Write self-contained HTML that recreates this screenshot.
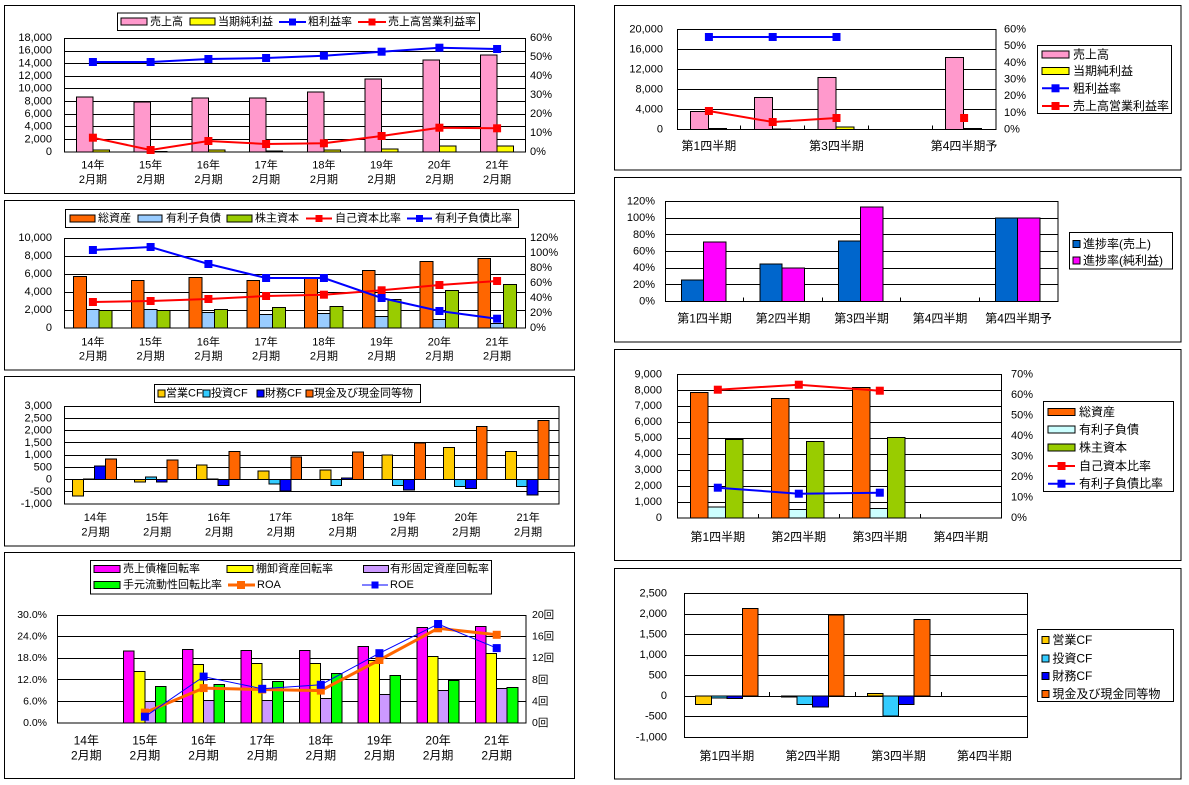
<!DOCTYPE html>
<html><head><meta charset="utf-8">
<style>
html,body{margin:0;padding:0;background:#fff;}
svg{display:block;}
text{fill:#000;}
.e{text-anchor:end;}
.m{text-anchor:middle;}
.g{stroke:#000;stroke-width:1;shape-rendering:crispEdges;}
.b{stroke:#000;stroke-width:1;shape-rendering:crispEdges;}
</style></head>
<body>
<svg width="1189" height="785" viewBox="0 0 1189 785" xmlns="http://www.w3.org/2000/svg" font-family="'Liberation Sans','Noto Sans CJK JP',sans-serif" font-size="11" dominant-baseline="central">
<rect x="0" y="0" width="1189" height="785" fill="#fff"/>

<!-- ================= CHART 1 ================= -->
<rect x="4.5" y="5.5" width="570" height="188" fill="#fff" class="b"/>
<rect x="117.5" y="13" width="362" height="17.5" fill="#fff" class="b"/>
<rect x="121" y="18" width="26" height="7" fill="#FF99CC" class="b"/>
<text x="150" y="22">売上高</text>
<rect x="190" y="18" width="25" height="7" fill="#FFFF00" class="b"/>
<text x="218" y="22">当期純利益</text>
<line x1="279" y1="22" x2="306" y2="22" stroke="#0000FF" stroke-width="2"/>
<rect x="289" y="18.5" width="7" height="7" fill="#0000FF"/>
<text x="308" y="22">粗利益率</text>
<line x1="358" y1="22" x2="386" y2="22" stroke="#FF0000" stroke-width="2"/>
<rect x="368.5" y="18.5" width="7" height="7" fill="#FF0000"/>
<text x="388" y="22">売上高営業利益率</text>

<rect x="64.5" y="38.5" width="461" height="113.5" fill="#fff" class="g"/>
<g class="g">
<line x1="64" y1="139.5" x2="526" y2="139.5"/><line x1="64" y1="126.5" x2="526" y2="126.5"/>
<line x1="64" y1="114.5" x2="526" y2="114.5"/><line x1="64" y1="101.5" x2="526" y2="101.5"/>
<line x1="64" y1="88.5" x2="526" y2="88.5"/><line x1="64" y1="76.5" x2="526" y2="76.5"/>
<line x1="64" y1="63.5" x2="526" y2="63.5"/><line x1="64" y1="51.5" x2="526" y2="51.5"/>
</g>
<g class="e">
<text x="52" y="152">0</text><text x="52" y="139.3">2,000</text><text x="52" y="126.7">4,000</text>
<text x="52" y="114">6,000</text><text x="52" y="101.3">8,000</text><text x="52" y="88.7">10,000</text>
<text x="52" y="76">12,000</text><text x="52" y="63.3">14,000</text><text x="52" y="50.7">16,000</text>
<text x="52" y="38">18,000</text>
</g>
<g>
<text x="530" y="152">0%</text><text x="530" y="133">10%</text><text x="530" y="114">20%</text>
<text x="530" y="95">30%</text><text x="530" y="76">40%</text><text x="530" y="57">50%</text><text x="530" y="38">60%</text>
</g>
<g fill="#FF99CC" class="b">
<rect x="76.4" y="96.9" width="16.5" height="55.1"/>
<rect x="134.1" y="102" width="16.5" height="50"/>
<rect x="191.9" y="98.2" width="16.5" height="53.8"/>
<rect x="249.6" y="98.2" width="16.5" height="53.8"/>
<rect x="307.4" y="92.2" width="16.5" height="59.8"/>
<rect x="365.1" y="79.2" width="16.5" height="72.8"/>
<rect x="422.9" y="60.2" width="16.5" height="91.8"/>
<rect x="480.6" y="55.1" width="16.5" height="96.9"/>
</g>
<g fill="#FFFF00" class="b">
<rect x="92.9" y="150" width="16.5" height="2"/>
<rect x="150.6" y="151.5" width="16.5" height="0.5"/>
<rect x="208.4" y="150" width="16.5" height="2"/>
<rect x="266.1" y="151" width="16.5" height="1"/>
<rect x="323.9" y="150" width="16.5" height="2"/>
<rect x="381.6" y="149" width="16.5" height="3"/>
<rect x="439.4" y="146" width="16.5" height="6"/>
<rect x="497.1" y="146" width="16.5" height="6"/>
</g>
<polyline fill="none" stroke="#0000FF" stroke-width="2" points="92.9,62 150.6,62 208.4,59 266.1,58 323.9,55.7 381.6,51.7 439.4,47.7 497.1,49"/>
<g fill="#0000FF">
<rect x="88.9" y="58" width="8" height="8"/><rect x="146.6" y="58" width="8" height="8"/>
<rect x="204.4" y="55" width="8" height="8"/><rect x="262.1" y="54" width="8" height="8"/>
<rect x="319.9" y="51.7" width="8" height="8"/><rect x="377.6" y="47.7" width="8" height="8"/>
<rect x="435.4" y="43.7" width="8" height="8"/><rect x="493.1" y="45" width="8" height="8"/>
</g>
<polyline fill="none" stroke="#FF0000" stroke-width="2" points="92.9,137.7 150.6,150 208.4,141 266.1,144 323.9,143.3 381.6,136 439.4,127.7 497.1,128.3"/>
<g fill="#FF0000">
<rect x="88.9" y="133.7" width="8" height="8"/><rect x="146.6" y="146" width="8" height="8"/>
<rect x="204.4" y="137" width="8" height="8"/><rect x="262.1" y="140" width="8" height="8"/>
<rect x="319.9" y="139.3" width="8" height="8"/><rect x="377.6" y="132" width="8" height="8"/>
<rect x="435.4" y="123.7" width="8" height="8"/><rect x="493.1" y="124.3" width="8" height="8"/>
</g>
<g class="m">
<text x="92.9" y="165.5">14年</text><text x="150.6" y="165.5">15年</text><text x="208.4" y="165.5">16年</text><text x="266.1" y="165.5">17年</text>
<text x="323.9" y="165.5">18年</text><text x="381.6" y="165.5">19年</text><text x="439.4" y="165.5">20年</text><text x="497.1" y="165.5">21年</text>
<text x="92.9" y="180">2月期</text><text x="150.6" y="180">2月期</text><text x="208.4" y="180">2月期</text><text x="266.1" y="180">2月期</text>
<text x="323.9" y="180">2月期</text><text x="381.6" y="180">2月期</text><text x="439.4" y="180">2月期</text><text x="497.1" y="180">2月期</text>
</g>

<!-- ================= CHART 2 ================= -->
<rect x="4.5" y="200.5" width="570" height="169.5" fill="#fff" class="b"/>
<rect x="65.5" y="209.5" width="453" height="18" fill="#fff" class="b"/>
<rect x="70" y="215" width="25" height="7" fill="#FF6600" class="b"/>
<text x="98" y="218.5">総資産</text>
<rect x="138" y="215" width="24" height="7" fill="#99CCFF" class="b"/>
<text x="166" y="218.5">有利子負債</text>
<rect x="227" y="215" width="25" height="7" fill="#99CC00" class="b"/>
<text x="255" y="218.5">株主資本</text>
<line x1="306" y1="218.5" x2="332" y2="218.5" stroke="#FF0000" stroke-width="2"/>
<rect x="315.5" y="215" width="7" height="7" fill="#FF0000"/>
<text x="335" y="218.5">自己資本比率</text>
<line x1="407" y1="218.5" x2="432" y2="218.5" stroke="#0000FF" stroke-width="2"/>
<rect x="416" y="215" width="7" height="7" fill="#0000FF"/>
<text x="435" y="218.5">有利子負債比率</text>

<rect x="64.5" y="238.5" width="461" height="89.5" fill="#fff" class="g"/>
<g class="g">
<line x1="64" y1="310.5" x2="526" y2="310.5"/><line x1="64" y1="292.5" x2="526" y2="292.5"/>
<line x1="64" y1="274.5" x2="526" y2="274.5"/><line x1="64" y1="256.5" x2="526" y2="256.5"/>
</g>
<g class="e">
<text x="52" y="328">0</text><text x="52" y="310">2,000</text><text x="52" y="292">4,000</text>
<text x="52" y="274">6,000</text><text x="52" y="256">8,000</text><text x="52" y="238">10,000</text>
</g>
<g>
<text x="530" y="328">0%</text><text x="530" y="313">20%</text><text x="530" y="298">40%</text><text x="530" y="283">60%</text>
<text x="530" y="268">80%</text><text x="530" y="253">100%</text><text x="530" y="238">120%</text>
</g>
<g fill="#FF6600" class="b">
<rect x="73.6" y="276.3" width="12.8" height="51.7"/>
<rect x="131.35" y="280.3" width="12.8" height="47.7"/>
<rect x="189.1" y="277.3" width="12.8" height="50.7"/>
<rect x="246.85" y="280.3" width="12.8" height="47.7"/>
<rect x="304.6" y="277.7" width="12.8" height="50.3"/>
<rect x="362.35" y="270.3" width="12.8" height="57.7"/>
<rect x="420.1" y="261.3" width="12.8" height="66.7"/>
<rect x="477.85" y="258.3" width="12.8" height="69.7"/>
</g>
<g fill="#99CCFF" class="b">
<rect x="86.4" y="309.3" width="12.8" height="18.7"/>
<rect x="144.15" y="309.3" width="12.8" height="18.7"/>
<rect x="201.9" y="312.3" width="12.8" height="15.7"/>
<rect x="259.65" y="314.3" width="12.8" height="13.7"/>
<rect x="317.4" y="313.3" width="12.8" height="14.7"/>
<rect x="375.15" y="316.3" width="12.8" height="11.7"/>
<rect x="432.9" y="319.3" width="12.8" height="8.7"/>
<rect x="490.65" y="323.3" width="12.8" height="4.7"/>
</g>
<g fill="#99CC00" class="b">
<rect x="99.2" y="310.3" width="12.8" height="17.7"/>
<rect x="156.95" y="310.3" width="12.8" height="17.7"/>
<rect x="214.7" y="309.3" width="12.8" height="18.7"/>
<rect x="272.45" y="307.3" width="12.8" height="20.7"/>
<rect x="330.2" y="306.3" width="12.8" height="21.7"/>
<rect x="387.95" y="299.3" width="12.8" height="28.7"/>
<rect x="445.7" y="290.3" width="12.8" height="37.7"/>
<rect x="503.45" y="284.3" width="12.8" height="43.7"/>
</g>
<polyline fill="none" stroke="#FF0000" stroke-width="2" points="92.9,302 150.6,301 208.4,299 266.1,296 323.9,294.7 381.6,290.3 439.4,285 497.1,281"/>
<g fill="#FF0000">
<rect x="88.9" y="298" width="8" height="8"/><rect x="146.6" y="297" width="8" height="8"/>
<rect x="204.4" y="295" width="8" height="8"/><rect x="262.1" y="292" width="8" height="8"/>
<rect x="319.9" y="290.7" width="8" height="8"/><rect x="377.6" y="286.3" width="8" height="8"/>
<rect x="435.4" y="281" width="8" height="8"/><rect x="493.1" y="277" width="8" height="8"/>
</g>
<polyline fill="none" stroke="#0000FF" stroke-width="2" points="92.9,250 150.6,247 208.4,264 266.1,278 323.9,278 381.6,298 439.4,311 497.1,318.7"/>
<g fill="#0000FF">
<rect x="88.9" y="246" width="8" height="8"/><rect x="146.6" y="243" width="8" height="8"/>
<rect x="204.4" y="260" width="8" height="8"/><rect x="262.1" y="274" width="8" height="8"/>
<rect x="319.9" y="274" width="8" height="8"/><rect x="377.6" y="294" width="8" height="8"/>
<rect x="435.4" y="307" width="8" height="8"/><rect x="493.1" y="314.7" width="8" height="8"/>
</g>
<g class="m">
<text x="92.9" y="342.7">14年</text><text x="150.6" y="342.7">15年</text><text x="208.4" y="342.7">16年</text><text x="266.1" y="342.7">17年</text>
<text x="323.9" y="342.7">18年</text><text x="381.6" y="342.7">19年</text><text x="439.4" y="342.7">20年</text><text x="497.1" y="342.7">21年</text>
<text x="92.9" y="356.7">2月期</text><text x="150.6" y="356.7">2月期</text><text x="208.4" y="356.7">2月期</text><text x="266.1" y="356.7">2月期</text>
<text x="323.9" y="356.7">2月期</text><text x="381.6" y="356.7">2月期</text><text x="439.4" y="356.7">2月期</text><text x="497.1" y="356.7">2月期</text>
</g>

<!-- ================= CHART 3 ================= -->
<rect x="4.5" y="376.5" width="570" height="169.5" fill="#fff" class="b"/>
<rect x="154.5" y="384.5" width="266" height="18" fill="#fff" class="b"/>
<rect x="158" y="390" width="7" height="7" fill="#FFCC00" class="b"/>
<text x="166" y="393.5">営業CF</text>
<rect x="203" y="390" width="7" height="7" fill="#33CCFF" class="b"/>
<text x="211" y="393.5">投資CF</text>
<rect x="257" y="390" width="7" height="7" fill="#0000FF" class="b"/>
<text x="265" y="393.5">財務CF</text>
<rect x="306" y="390" width="7" height="7" fill="#FF6600" class="b"/>
<text x="314" y="393.5">現金及び現金同等物</text>

<rect x="64.5" y="406.5" width="494.5" height="97.5" fill="#fff" class="g"/>
<g class="g">
<line x1="64" y1="418.5" x2="559" y2="418.5"/><line x1="64" y1="430.5" x2="559" y2="430.5"/>
<line x1="64" y1="442.5" x2="559" y2="442.5"/><line x1="64" y1="455.5" x2="559" y2="455.5"/>
<line x1="64" y1="467.5" x2="559" y2="467.5"/><line x1="64" y1="479.5" x2="559" y2="479.5"/>
<line x1="64" y1="491.5" x2="559" y2="491.5"/>
</g>
<g class="e">
<text x="52" y="406">3,000</text><text x="52" y="418.3">2,500</text><text x="52" y="430.5">2,000</text>
<text x="52" y="442.8">1,500</text><text x="52" y="455">1,000</text><text x="52" y="467.3">500</text>
<text x="52" y="479.5">0</text><text x="52" y="491.8">-500</text><text x="52" y="504">-1,000</text>
</g>
<g fill="#FFCC00" class="b">
<rect x="72.7" y="479.5" width="10.9" height="16.6"/>
<rect x="134.5" y="479.5" width="10.9" height="2.3"/>
<rect x="196.3" y="465.2" width="10.9" height="14.3"/>
<rect x="258.1" y="471.2" width="10.9" height="8.3"/>
<rect x="319.9" y="470.2" width="10.9" height="9.3"/>
<rect x="381.8" y="455.2" width="10.9" height="24.3"/>
<rect x="443.6" y="447.3" width="10.9" height="32.2"/>
<rect x="505.4" y="451.3" width="10.9" height="28.2"/>
</g>
<g fill="#33CCFF" class="b">
<rect x="83.6" y="478.8" width="10.9" height="0.7"/>
<rect x="145.4" y="477.2" width="10.9" height="2.3"/>
<rect x="207.2" y="479" width="10.9" height="0.5"/>
<rect x="269" y="479.5" width="10.9" height="4.7"/>
<rect x="330.8" y="479.5" width="10.9" height="6"/>
<rect x="392.7" y="479.5" width="10.9" height="6"/>
<rect x="454.5" y="479.5" width="10.9" height="7"/>
<rect x="516.3" y="479.5" width="10.9" height="7"/>
</g>
<g fill="#0000FF" class="b">
<rect x="94.5" y="466.2" width="10.9" height="13.3"/>
<rect x="156.3" y="479.5" width="10.9" height="2.7"/>
<rect x="218.1" y="479.5" width="10.9" height="6"/>
<rect x="279.9" y="479.5" width="10.9" height="11.6"/>
<rect x="341.7" y="477.8" width="10.9" height="1.7"/>
<rect x="403.6" y="479.5" width="10.9" height="10.6"/>
<rect x="465.4" y="479.5" width="10.9" height="9"/>
<rect x="527.2" y="479.5" width="10.9" height="15.6"/>
</g>
<g fill="#FF6600" class="b">
<rect x="105.4" y="459.2" width="10.9" height="20.3"/>
<rect x="167.2" y="460.2" width="10.9" height="19.3"/>
<rect x="229" y="451.3" width="10.9" height="28.2"/>
<rect x="290.8" y="457.2" width="10.9" height="22.3"/>
<rect x="352.6" y="452.2" width="10.9" height="27.3"/>
<rect x="414.5" y="442.9" width="10.9" height="36.6"/>
<rect x="476.3" y="426.3" width="10.9" height="53.2"/>
<rect x="538.1" y="420.3" width="10.9" height="59.2"/>
</g>
<g class="m">
<text x="95.4" y="518">14年</text><text x="157.2" y="518">15年</text><text x="219" y="518">16年</text><text x="280.8" y="518">17年</text>
<text x="342.6" y="518">18年</text><text x="404.5" y="518">19年</text><text x="466.3" y="518">20年</text><text x="528.1" y="518">21年</text>
<text x="95.4" y="532.7">2月期</text><text x="157.2" y="532.7">2月期</text><text x="219" y="532.7">2月期</text><text x="280.8" y="532.7">2月期</text>
<text x="342.6" y="532.7">2月期</text><text x="404.5" y="532.7">2月期</text><text x="466.3" y="532.7">2月期</text><text x="528.1" y="532.7">2月期</text>
</g>

<!-- ================= CHART 4 ================= -->
<rect x="4.5" y="552.5" width="570" height="226" fill="#fff" class="b"/>
<rect x="90.5" y="560.5" width="401" height="33.5" fill="#fff" class="b"/>
<rect x="94" y="565.5" width="26" height="7" fill="#FF00FF" class="b"/>
<text x="123" y="569">売上債権回転率</text>
<rect x="227" y="565.5" width="26" height="7" fill="#FFFF00" class="b"/>
<text x="256" y="569">棚卸資産回転率</text>
<rect x="363.5" y="565.5" width="25" height="7" fill="#CC99FF" class="b"/>
<text x="390" y="569">有形固定資産回転率</text>
<rect x="94" y="581.5" width="26" height="7" fill="#00FF00" class="b"/>
<text x="123" y="585">手元流動性回転比率</text>
<line x1="228" y1="585" x2="255" y2="585" stroke="#FF6600" stroke-width="3"/>
<rect x="237" y="581" width="8" height="8" fill="#FF6600"/>
<text x="257" y="585">ROA</text>
<line x1="362" y1="585" x2="388" y2="585" stroke="#0000FF" stroke-width="1"/>
<rect x="371.5" y="581.5" width="7" height="7" fill="#0000FF"/>
<text x="390" y="585">ROE</text>

<rect x="57.5" y="615.5" width="468.5" height="107.5" fill="#fff" class="g"/>
<g class="g">
<line x1="57" y1="701.5" x2="526" y2="701.5"/><line x1="57" y1="679.5" x2="526" y2="679.5"/>
<line x1="57" y1="658.5" x2="526" y2="658.5"/><line x1="57" y1="636.5" x2="526" y2="636.5"/>
</g>
<g class="e" font-size="10.5">
<text x="47" y="723">0.0%</text><text x="47" y="701.4">6.0%</text><text x="47" y="679.8">12.0%</text>
<text x="47" y="658.2">18.0%</text><text x="47" y="636.6">24.0%</text><text x="47" y="615">30.0%</text>
</g>
<g font-size="10.5">
<text x="532" y="723">0回</text><text x="532" y="701.4">4回</text><text x="532" y="679.8">8回</text>
<text x="532" y="658.2">12回</text><text x="532" y="636.6">16回</text><text x="532" y="615">20回</text>
</g>
<g fill="#FF00FF" class="b">
<rect x="123.6" y="651" width="10.6" height="72"/>
<rect x="182.25" y="649.6" width="10.6" height="73.4"/>
<rect x="240.9" y="650.6" width="10.6" height="72.4"/>
<rect x="299.5" y="650.6" width="10.6" height="72.4"/>
<rect x="358.1" y="646.7" width="10.6" height="76.3"/>
<rect x="416.75" y="627.6" width="10.6" height="95.4"/>
<rect x="475.4" y="626.5" width="10.6" height="96.5"/>
</g>
<g fill="#FFFF00" class="b">
<rect x="134.2" y="671.5" width="10.6" height="51.5"/>
<rect x="192.85" y="664.7" width="10.6" height="58.3"/>
<rect x="251.5" y="663.6" width="10.6" height="59.4"/>
<rect x="310.1" y="663.6" width="10.6" height="59.4"/>
<rect x="368.7" y="660.4" width="10.6" height="62.6"/>
<rect x="427.35" y="656.4" width="10.6" height="66.6"/>
<rect x="486" y="653.5" width="10.6" height="69.5"/>
</g>
<g fill="#CC99FF" class="b">
<rect x="144.8" y="701.4" width="10.6" height="21.6"/>
<rect x="203.45" y="700.3" width="10.6" height="22.7"/>
<rect x="262.1" y="700.3" width="10.6" height="22.7"/>
<rect x="320.7" y="698.5" width="10.6" height="24.5"/>
<rect x="379.3" y="694.6" width="10.6" height="28.4"/>
<rect x="437.95" y="690.6" width="10.6" height="32.4"/>
<rect x="496.6" y="688.4" width="10.6" height="34.6"/>
</g>
<g fill="#00FF00" class="b">
<rect x="155.4" y="686.3" width="10.6" height="36.7"/>
<rect x="214.05" y="684.5" width="10.6" height="38.5"/>
<rect x="272.7" y="681.6" width="10.6" height="41.4"/>
<rect x="331.3" y="673.3" width="10.6" height="49.7"/>
<rect x="389.9" y="675.5" width="10.6" height="47.5"/>
<rect x="448.55" y="680.5" width="10.6" height="42.5"/>
<rect x="507.2" y="687.4" width="10.6" height="35.6"/>
</g>
<polyline fill="none" stroke="#FF6600" stroke-width="3" points="144.9,712.6 203.6,688.1 262.2,689.5 320.8,690.6 379.4,660 438.1,628.3 496.7,634.8"/>
<g fill="#FF6600">
<rect x="140.9" y="708.6" width="8" height="8"/><rect x="199.6" y="684.1" width="8" height="8"/>
<rect x="258.2" y="685.5" width="8" height="8"/><rect x="316.8" y="686.6" width="8" height="8"/>
<rect x="375.4" y="656" width="8" height="8"/><rect x="434.1" y="624.3" width="8" height="8"/>
<rect x="492.7" y="630.8" width="8" height="8"/>
</g>
<polyline fill="none" stroke="#0000FF" stroke-width="1" points="144.9,716.7 203.6,676.6 262.2,688.8 320.8,684.8 379.4,653.2 438.1,624 496.7,648.1"/>
<g fill="#0000FF">
<rect x="140.9" y="712.7" width="8" height="8"/><rect x="199.6" y="672.6" width="8" height="8"/>
<rect x="258.2" y="684.8" width="8" height="8"/><rect x="316.8" y="680.8" width="8" height="8"/>
<rect x="375.4" y="649.2" width="8" height="8"/><rect x="434.1" y="620" width="8" height="8"/>
<rect x="492.7" y="644.1" width="8" height="8"/>
</g>
<g class="m" font-size="12">
<text x="86.3" y="740.7">14年</text><text x="144.9" y="740.7">15年</text><text x="203.6" y="740.7">16年</text><text x="262.2" y="740.7">17年</text>
<text x="320.8" y="740.7">18年</text><text x="379.4" y="740.7">19年</text><text x="438.1" y="740.7">20年</text><text x="496.7" y="740.7">21年</text>
<text x="86.3" y="755.3">2月期</text><text x="144.9" y="755.3">2月期</text><text x="203.6" y="755.3">2月期</text><text x="262.2" y="755.3">2月期</text>
<text x="320.8" y="755.3">2月期</text><text x="379.4" y="755.3">2月期</text><text x="438.1" y="755.3">2月期</text><text x="496.7" y="755.3">2月期</text>
</g>

<!-- ================= CHART 5 ================= -->
<rect x="614.5" y="5.5" width="566.5" height="164.5" fill="#fff" class="b"/>
<rect x="677.5" y="29.5" width="318.5" height="100" fill="#fff" class="g"/>
<g class="g">
<line x1="677" y1="109.5" x2="996" y2="109.5"/><line x1="677" y1="89.5" x2="996" y2="89.5"/>
<line x1="677" y1="69.5" x2="996" y2="69.5"/><line x1="677" y1="49.5" x2="996" y2="49.5"/>
<line x1="740.5" y1="125.5" x2="740.5" y2="129.5"/><line x1="804.5" y1="125.5" x2="804.5" y2="129.5"/>
<line x1="868.5" y1="125.5" x2="868.5" y2="129.5"/><line x1="932.5" y1="125.5" x2="932.5" y2="129.5"/>
</g>
<g class="e">
<text x="663" y="129.5">0</text><text x="663" y="109.5">4,000</text><text x="663" y="89.5">8,000</text>
<text x="663" y="69.5">12,000</text><text x="663" y="49.5">16,000</text><text x="663" y="29.5">20,000</text>
</g>
<g>
<text x="1004" y="129.5">0%</text><text x="1004" y="112.8">10%</text><text x="1004" y="96.2">20%</text>
<text x="1004" y="79.5">30%</text><text x="1004" y="62.8">40%</text><text x="1004" y="46.2">50%</text><text x="1004" y="29.5">60%</text>
</g>
<g fill="#FF99CC" class="b">
<rect x="690.5" y="111.5" width="18" height="18"/>
<rect x="754.3" y="97.5" width="18" height="32"/>
<rect x="818.1" y="77.5" width="18" height="52"/>
<rect x="945.7" y="57.5" width="18" height="72"/>
</g>
<g fill="#FFFF00" class="b">
<rect x="708.5" y="128.5" width="18" height="1"/>
<rect x="772.3" y="128.8" width="18" height="0.7"/>
<rect x="836.1" y="127.2" width="18" height="2.3"/>
<rect x="963.7" y="128.5" width="18" height="1"/>
</g>
<polyline fill="none" stroke="#0000FF" stroke-width="2" points="708.9,37 772.7,37 836.5,37"/>
<g fill="#0000FF">
<rect x="704.9" y="33" width="8" height="8"/><rect x="768.7" y="33" width="8" height="8"/><rect x="832.5" y="33" width="8" height="8"/>
</g>
<polyline fill="none" stroke="#FF0000" stroke-width="2" points="708.9,111 772.7,122 836.5,118"/>
<g fill="#FF0000">
<rect x="704.9" y="107" width="8" height="8"/><rect x="768.7" y="118" width="8" height="8"/>
<rect x="832.5" y="114" width="8" height="8"/><rect x="960.1" y="114" width="8" height="8"/>
</g>
<g class="m" font-size="12">
<text x="708.9" y="146">第1四半期</text><text x="836.5" y="146">第3四半期</text><text x="964.1" y="146">第4四半期予</text>
</g>
<rect x="1037.5" y="45.5" width="134" height="68" fill="#fff" class="b"/>
<g font-size="12">
<rect x="1042" y="51" width="27" height="7" fill="#FF99CC" class="b"/>
<text x="1073" y="54.3">売上高</text>
<rect x="1042" y="67.5" width="27" height="7" fill="#FFFF00" class="b"/>
<text x="1073" y="71">当期純利益</text>
<line x1="1042" y1="88.3" x2="1069" y2="88.3" stroke="#0000FF" stroke-width="2"/>
<rect x="1051.5" y="84.3" width="8" height="8" fill="#0000FF"/>
<text x="1073" y="88.3">粗利益率</text>
<line x1="1042" y1="106" x2="1069" y2="106" stroke="#FF0000" stroke-width="2"/>
<rect x="1051.5" y="102" width="8" height="8" fill="#FF0000"/>
<text x="1073" y="106">売上高営業利益率</text>
</g>

<!-- ================= CHART 6 ================= -->
<rect x="614.5" y="177.5" width="566.5" height="164.5" fill="#fff" class="b"/>
<rect x="665.5" y="201.5" width="392.5" height="100" fill="#fff" class="g"/>
<g class="g">
<line x1="665" y1="284.5" x2="1058" y2="284.5"/><line x1="665" y1="268.5" x2="1058" y2="268.5"/>
<line x1="665" y1="251.5" x2="1058" y2="251.5"/><line x1="665" y1="234.5" x2="1058" y2="234.5"/>
<line x1="665" y1="218.5" x2="1058" y2="218.5"/>
<line x1="743.5" y1="297.5" x2="743.5" y2="301.5"/><line x1="822.5" y1="297.5" x2="822.5" y2="301.5"/>
<line x1="900.5" y1="297.5" x2="900.5" y2="301.5"/><line x1="979.5" y1="297.5" x2="979.5" y2="301.5"/>
</g>
<g class="e">
<text x="655" y="301.5">0%</text><text x="655" y="284.8">20%</text><text x="655" y="268.2">40%</text>
<text x="655" y="251.5">60%</text><text x="655" y="234.8">80%</text><text x="655" y="218.2">100%</text><text x="655" y="201.5">120%</text>
</g>
<g fill="#0066CC" class="b">
<rect x="681.4" y="280.2" width="22.3" height="21.3"/>
<rect x="759.9" y="264.2" width="22.3" height="37.3"/>
<rect x="838.4" y="240.8" width="22.3" height="60.7"/>
<rect x="995.4" y="218.2" width="22.3" height="83.3"/>
</g>
<g fill="#FF00FF" class="b">
<rect x="703.7" y="242.2" width="22.3" height="59.3"/>
<rect x="782.2" y="268.2" width="22.3" height="33.3"/>
<rect x="860.7" y="207.2" width="22.3" height="94.3"/>
<rect x="1017.7" y="218.2" width="22.3" height="83.3"/>
</g>
<g class="m" font-size="12">
<text x="704.6" y="318.3">第1四半期</text><text x="783.1" y="318.3">第2四半期</text><text x="861.6" y="318.3">第3四半期</text>
<text x="940.1" y="318.3">第4四半期</text><text x="1018.6" y="318.3">第4四半期予</text>
</g>
<rect x="1069.5" y="232.5" width="103" height="36.5" fill="#fff" class="b"/>
<g font-size="12">
<rect x="1073" y="240.5" width="7" height="7" fill="#0066CC" class="b"/>
<text x="1083" y="244">進捗率(売上)</text>
<rect x="1073" y="257.2" width="7" height="7" fill="#FF00FF" class="b"/>
<text x="1083" y="260.7">進捗率(純利益)</text>
</g>

<!-- ================= CHART 7 ================= -->
<rect x="614.5" y="349.5" width="566.5" height="211" fill="#fff" class="b"/>
<rect x="677.5" y="374.5" width="324" height="143.5" fill="#fff" class="g"/>
<g class="g">
<line x1="677" y1="502.5" x2="1001" y2="502.5"/><line x1="677" y1="486.5" x2="1001" y2="486.5"/>
<line x1="677" y1="470.5" x2="1001" y2="470.5"/><line x1="677" y1="454.5" x2="1001" y2="454.5"/>
<line x1="677" y1="438.5" x2="1001" y2="438.5"/><line x1="677" y1="422.5" x2="1001" y2="422.5"/>
<line x1="677" y1="406.5" x2="1001" y2="406.5"/><line x1="677" y1="390.5" x2="1001" y2="390.5"/>
<line x1="758.5" y1="514" x2="758.5" y2="518"/><line x1="839.5" y1="514" x2="839.5" y2="518"/>
<line x1="920.5" y1="514" x2="920.5" y2="518"/>
</g>
<g class="e">
<text x="662" y="518">0</text><text x="662" y="502">1,000</text><text x="662" y="486.1">2,000</text>
<text x="662" y="470.1">3,000</text><text x="662" y="454.1">4,000</text><text x="662" y="438.2">5,000</text>
<text x="662" y="422.2">6,000</text><text x="662" y="406.2">7,000</text><text x="662" y="390.3">8,000</text>
<text x="662" y="374.3">9,000</text>
</g>
<g>
<text x="1011" y="518">0%</text><text x="1011" y="497.5">10%</text><text x="1011" y="476.9">20%</text>
<text x="1011" y="456.4">30%</text><text x="1011" y="435.9">40%</text><text x="1011" y="415.4">50%</text>
<text x="1011" y="394.8">60%</text><text x="1011" y="374.3">70%</text>
</g>
<g fill="#FF6600" class="b">
<rect x="690.3" y="392.3" width="17.5" height="125.7"/>
<rect x="771.3" y="398.3" width="17.5" height="119.7"/>
<rect x="852.3" y="387.3" width="17.5" height="130.7"/>
</g>
<g fill="#CCFFFF" class="b">
<rect x="707.8" y="507" width="17.5" height="11"/>
<rect x="788.8" y="509.3" width="17.5" height="8.7"/>
<rect x="869.8" y="508.3" width="17.5" height="9.7"/>
</g>
<g fill="#99CC00" class="b">
<rect x="725.3" y="439.3" width="17.5" height="78.7"/>
<rect x="806.3" y="441.3" width="17.5" height="76.7"/>
<rect x="887.3" y="437.3" width="17.5" height="80.7"/>
</g>
<polyline fill="none" stroke="#FF0000" stroke-width="2" points="717.8,389.7 798.8,384.7 879.8,390.7"/>
<g fill="#FF0000">
<rect x="713.8" y="385.7" width="8" height="8"/><rect x="794.8" y="380.7" width="8" height="8"/><rect x="875.8" y="386.7" width="8" height="8"/>
</g>
<polyline fill="none" stroke="#0000FF" stroke-width="2" points="717.8,487.7 798.8,493.7 879.8,492.7"/>
<g fill="#0000FF">
<rect x="713.8" y="483.7" width="8" height="8"/><rect x="794.8" y="489.7" width="8" height="8"/><rect x="875.8" y="488.7" width="8" height="8"/>
</g>
<g class="m" font-size="12">
<text x="717.8" y="537">第1四半期</text><text x="798.8" y="537">第2四半期</text>
<text x="879.8" y="537">第3四半期</text><text x="960.8" y="537">第4四半期</text>
</g>
<rect x="1043.5" y="401.5" width="130" height="90" fill="#fff" class="b"/>
<g font-size="12">
<rect x="1048" y="408.5" width="27" height="7" fill="#FF6600" class="b"/>
<text x="1079" y="412">総資産</text>
<rect x="1048" y="426.2" width="27" height="7" fill="#CCFFFF" class="b"/>
<text x="1079" y="429.7">有利子負債</text>
<rect x="1048" y="444.2" width="27" height="7" fill="#99CC00" class="b"/>
<text x="1079" y="447.7">株主資本</text>
<line x1="1048" y1="466" x2="1075" y2="466" stroke="#FF0000" stroke-width="2"/>
<rect x="1057.5" y="462" width="8" height="8" fill="#FF0000"/>
<text x="1079" y="466">自己資本比率</text>
<line x1="1048" y1="483.7" x2="1075" y2="483.7" stroke="#0000FF" stroke-width="2"/>
<rect x="1057.5" y="479.7" width="8" height="8" fill="#0000FF"/>
<text x="1079" y="483.7">有利子負債比率</text>
</g>

<!-- ================= CHART 8 ================= -->
<rect x="614.5" y="568.5" width="566.5" height="210.5" fill="#fff" class="b"/>
<rect x="684.5" y="593.5" width="343" height="144" fill="#fff" class="g"/>
<g class="g">
<line x1="684" y1="614.5" x2="1027" y2="614.5"/><line x1="684" y1="634.5" x2="1027" y2="634.5"/>
<line x1="684" y1="655.5" x2="1027" y2="655.5"/><line x1="684" y1="675.5" x2="1027" y2="675.5"/>
<line x1="684" y1="696.5" x2="1027" y2="696.5"/><line x1="684" y1="716.5" x2="1027" y2="716.5"/>
<line x1="769.5" y1="692" x2="769.5" y2="697"/><line x1="855.5" y1="692" x2="855.5" y2="697"/>
<line x1="941.5" y1="692" x2="941.5" y2="697"/>
</g>
<g class="e">
<text x="667" y="593.3">2,500</text><text x="667" y="613.9">2,000</text><text x="667" y="634.4">1,500</text>
<text x="667" y="655">1,000</text><text x="667" y="675.6">500</text><text x="667" y="696.2">0</text>
<text x="667" y="716.7">-500</text><text x="667" y="737.3">-1,000</text>
</g>
<g fill="#FFCC00" class="b">
<rect x="695.7" y="696.2" width="15.6" height="8.4"/>
<rect x="781.5" y="696.2" width="15.6" height="1"/>
<rect x="867.4" y="693.5" width="15.6" height="2.7"/>
</g>
<g fill="#33CCFF" class="b">
<rect x="711.3" y="696.2" width="15.6" height="2"/>
<rect x="797.1" y="696.2" width="15.6" height="8.4"/>
<rect x="883" y="696.2" width="15.6" height="19.7"/>
</g>
<g fill="#0000FF" class="b">
<rect x="726.9" y="696.2" width="15.6" height="2.3"/>
<rect x="812.7" y="696.2" width="15.6" height="10.7"/>
<rect x="898.6" y="696.2" width="15.6" height="8.4"/>
</g>
<g fill="#FF6600" class="b">
<rect x="742.5" y="608.4" width="15.6" height="87.8"/>
<rect x="828.3" y="615.1" width="15.6" height="81.1"/>
<rect x="914.2" y="619.4" width="15.6" height="76.8"/>
</g>
<g class="m" font-size="12">
<text x="726.9" y="756">第1四半期</text><text x="812.8" y="756">第2四半期</text>
<text x="898.6" y="756">第3四半期</text><text x="984.4" y="756">第4四半期</text>
</g>
<rect x="1037.5" y="629.5" width="136" height="72" fill="#fff" class="b"/>
<g font-size="12">
<rect x="1042" y="636.5" width="7" height="7" fill="#FFCC00" class="b"/>
<text x="1052.4" y="640">営業CF</text>
<rect x="1042" y="654.8" width="7" height="7" fill="#33CCFF" class="b"/>
<text x="1052.4" y="658.3">投資CF</text>
<rect x="1042" y="672.5" width="7" height="7" fill="#0000FF" class="b"/>
<text x="1052.4" y="676">財務CF</text>
<rect x="1042" y="690.5" width="7" height="7" fill="#FF6600" class="b"/>
<text x="1052.4" y="694">現金及び現金同等物</text>
</g>
</svg>
</body></html>
